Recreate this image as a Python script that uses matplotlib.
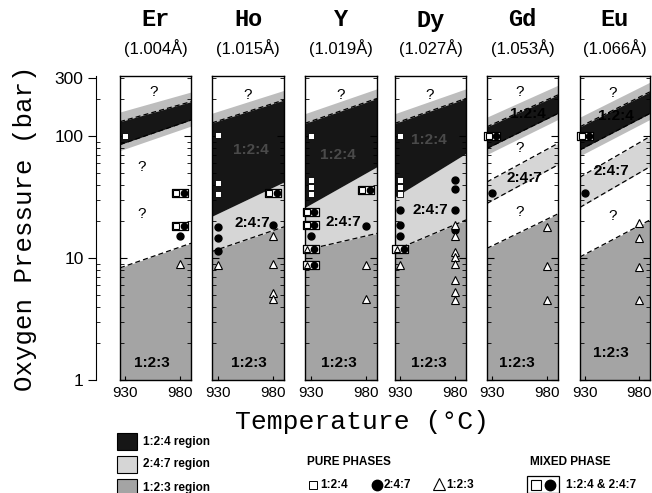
import numpy as np
import matplotlib
matplotlib.use("Agg")
import matplotlib.pyplot as plt
from matplotlib.path import Path
from matplotlib.transforms import ScaledTranslation
from matplotlib.patches import Rectangle

elements = ["Er", "Ho", "Y", "Dy", "Gd", "Eu"]
radii = ["(1.004Å)", "(1.015Å)", "(1.019Å)", "(1.027Å)", "(1.053Å)", "(1.066Å)"]

# phase boundaries: pressure (bar) at left / right edge of each panel
top_123 = [(8.3, 13.2), (11.3, 18.0), (11.6, 15.9), (11.6, 20.5), (12.0, 23.0), (10.2, 20.5)]
low_124 = [(85, 135), (22, 42), (26, 56), (31.6, 72), (79, 153), (77, 153)]
top_124 = [(131, 191), (128, 197), (127, 203), (127, 203), (119, 217), (119, 230)]
low_247 = [None, None, None, None, (28, 58), (26, 56)]
top_247 = [None, None, None, None, (42, 87), (46, 99)]
fill_247_below_124 = [False, True, True, True, False, False]
dash_low_124 = [True, False, False, False, True, True]

# measured points (bar) at 930 and 980 C
sq_930 = [[100], [101, 41, 33.5], [100, 43.6, 38.5, 33.5], [100, 43.6, 38.5, 33.5], [], []]
circ_930 = [[], [18, 14.7, 11.4], [15.1], [24.8, 18.6, 15.1], [34], [34]]
circ_980 = [[15], [18.6], [18.3], [43.6, 36.6, 24.8, 16.9], [], []]
tri_930 = [[], [8.8], [], [8.8], [], []]
tri_980 = [[8.9], [15, 8.9, 5.2, 4.6], [8.8, 4.6],
           [18.6, 15, 11.3, 10.2, 9.0, 6.6, 5.3, 4.5], [18, 8.6, 4.5], [19.2, 14.5, 8.5, 4.5]]
mix_sq_930 = [[], [], [24, 18.6], [], [99], [99]]
mix_sq_980 = [[34, 18.4], [34], [36], [], [], []]
mix_tri_930 = [[], [], [11.9, 8.8], [11.9], [], []]

# region labels (T, P)
lab_124 = [None, (960, 77), (955, 70), (956, 93), (962, 150), (958, 145)]
lab_247 = [None, (961, 19.4), (960, 19.9), (957, 24.8), (959, 45), (954, 52)]
lab_123 = [(954, 1.37), (958, 1.37), (956, 1.37), (956, 1.37), (952, 1.37), (954, 1.66)]
qmarks = [[(956, 231), (945, 56), (945, 23)], [(957, 217)], [(957, 217)], [(957, 217)],
          [(955, 231), (955, 79), (955, 24)], [(955, 224), (955, 22)]]

c124, c247, c123, cfringe = "#161616", "#d6d6d6", "#a4a4a4", "#bdbdbd"
mono = "Liberation Mono"
sans = "Liberation Sans"

W, H = 652, 493
fig = plt.figure(figsize=(W / 100, H / 100), dpi=100)


def rect(x0, x1, y0=76, y1=380):
    return [x0 / W, 1 - y1 / H, (x1 - x0) / W, (y1 - y0) / H]


box = Path([(-1, -0.55), (1, -0.55), (1, 0.55), (-1, 0.55), (-1, -0.55)],
           [Path.MOVETO, Path.LINETO, Path.LINETO, Path.LINETO, Path.CLOSEPOLY])


def shifted(ax, dx):
    return ax.transData + ScaledTranslation(dx / 72, 0, fig.dpi_scale_trans)


def mixed(ax, t, ps, first):
    if not ps:
        return
    tt = [t] * len(ps)
    ax.plot(tt, ps, ls="none", marker=box, ms=11, mfc="white", mec="black", mew=0.9, clip_on=False, zorder=6)
    if first == "s":
        ax.plot(tt, ps, ls="none", marker="s", ms=4, mfc="white", mec="black", mew=0.8,
                transform=shifted(ax, -2.6), clip_on=False, zorder=7)
    else:
        ax.plot(tt, ps, ls="none", marker="^", ms=4.5, mfc="white", mec="black", mew=0.8,
                transform=shifted(ax, -2.6), clip_on=False, zorder=7)
    ax.plot(tt, ps, ls="none", marker="o", ms=4.5, color="black",
            transform=shifted(ax, 2.8), clip_on=False, zorder=7)


panel_px = [(120, 191), (212, 284), (305, 377), (395, 466), (487, 558), (580, 650)]
x = np.array([925, 990])

for i, name in enumerate(elements):
    ax = fig.add_axes(rect(*panel_px[i]))
    ax.set_yscale("log")
    ax.set_ylim(1, 310)
    ax.set_xlim(925, 990)

    ax.fill_between(x, 1, top_123[i], color=c123, lw=0)
    if fill_247_below_124[i]:
        ax.fill_between(x, top_123[i], low_124[i], color=c247, lw=0)
    if low_247[i] is not None:
        ax.fill_between(x, low_247[i], top_247[i], color=c247, lw=0)
    hi = np.array(top_124[i])
    lo = np.array(low_124[i])
    ax.fill_between(x, hi, hi * 1.2, color=cfringe, lw=0)
    if dash_low_124[i]:
        ax.fill_between(x, lo / 1.12, lo, color=cfringe, lw=0)
    ax.fill_between(x, lo, hi, color=c124, lw=0)

    ax.plot(x, top_124[i], color="black", ls=(0, (4, 2.5)), lw=0.9)
    ax.plot(x, top_123[i], color="black", ls=(0, (4, 2.5)), lw=0.9)
    if dash_low_124[i]:
        ax.plot(x, low_124[i], color="black", ls=(0, (4, 2.5)), lw=0.9)
    if low_247[i] is not None:
        ax.plot(x, low_247[i], color="black", ls=(0, (4, 2.5)), lw=0.9)
        ax.plot(x, top_247[i], color="black", ls=(0, (4, 2.5)), lw=0.9)

    ax.plot([930] * len(sq_930[i]), sq_930[i], ls="none", marker="s", ms=4,
            mfc="white", mec="black", mew=0.6, zorder=5)
    ax.plot([930] * len(circ_930[i]), circ_930[i], ls="none", marker="o", ms=5,
            color="black", zorder=5)
    ax.plot([980] * len(circ_980[i]), circ_980[i], ls="none", marker="o", ms=5,
            color="black", zorder=5)
    ax.plot([930] * len(tri_930[i]), tri_930[i], ls="none", marker="^", ms=5.5,
            mfc="white", mec="black", mew=0.8, zorder=5)
    ax.plot([980] * len(tri_980[i]), tri_980[i], ls="none", marker="^", ms=5.5,
            mfc="white", mec="black", mew=0.8, zorder=5)
    mixed(ax, 930, mix_sq_930[i], "s")
    mixed(ax, 980, mix_sq_980[i], "s")
    mixed(ax, 930, mix_tri_930[i], "t")

    for t, p in qmarks[i]:
        ax.text(t, p, "?", ha="center", va="center", fontsize=11, family=sans)
    if lab_124[i] is not None:
        col = "#4a4a4a" if fill_247_below_124[i] else "black"
        ax.text(*lab_124[i], "1:2:4", ha="center", va="center", fontsize=11,
                family=sans, weight="bold", color=col)
    if lab_247[i] is not None:
        ax.text(*lab_247[i], "2:4:7", ha="center", va="center", fontsize=11,
                family=sans, weight="bold")
    ax.text(*lab_123[i], "1:2:3", ha="center", va="center", fontsize=11,
            family=sans, weight="bold")

    ax.set_xticks([930, 980])
    ax.set_xticklabels(["930", "980"], family=sans, fontsize=11)
    ax.tick_params(axis="x", direction="in", length=3, pad=4, top=False)
    ax.yaxis.set_ticks_position("both")
    ax.tick_params(axis="y", which="major", direction="in", length=5, labelleft=False)
    ax.tick_params(axis="y", which="minor", direction="in", length=3, labelleft=False)
    for s in ax.spines.values():
        s.set_linewidth(1.0)

# shared pressure axis
ay = fig.add_axes(rect(96, 97))
ay.set_yscale("log")
ay.set_ylim(1, 310)
for s in ["top", "right", "bottom"]:
    ay.spines[s].set_visible(False)
ay.set_xticks([])
ay.set_yticks([1, 10, 100, 300])
ay.set_yticklabels(["1", "10", "100", "300"], family=sans, fontsize=12.5)
ay.tick_params(axis="y", which="major", direction="out", length=6, pad=3)
ay.tick_params(axis="y", which="minor", direction="in", length=3, labelleft=False)
ay.patch.set_visible(False)

# overlay in pixel coordinates for titles, axis labels, legend
ov = fig.add_axes([0, 0, 1, 1])
ov.set_xlim(0, W)
ov.set_ylim(H, 0)
ov.axis("off")
ov.patch.set_visible(False)

for i, name in enumerate(elements):
    cx = sum(panel_px[i]) / 2
    ov.text(cx, 20, name, ha="center", va="center", family=mono, weight="bold", fontsize=17)
    ov.text(cx, 48, radii[i], ha="center", va="center", family=sans, fontsize=12)

ov.text(25, 228, "Oxygen Pressure (bar)", rotation=90, ha="center", va="center",
        family=mono, fontsize=18.5)
ov.text(362, 422, "Temperature (°C)", ha="center", va="center", family=mono, fontsize=19)

legend_regions = ["1:2:4 region", "2:4:7 region", "1:2:3 region"]
for k, (lbl, col) in enumerate(zip(legend_regions, [c124, c247, c123])):
    y0 = 433 + k * 23
    ov.add_patch(Rectangle((117, y0), 20, 17, facecolor=col, edgecolor="black", lw=0.8))
    ov.text(143, y0 + 8.5, lbl, ha="left", va="center", family=sans, weight="bold", fontsize=8.5)

ov.text(307, 462, "PURE PHASES", ha="left", va="center", family=sans, weight="bold", fontsize=8.5)
ov.plot([313], [485], marker="s", ms=5.5, mfc="white", mec="black", mew=0.7)
ov.text(320, 485, "1:2:4", ha="left", va="center", family=sans, weight="bold", fontsize=8.5)
ov.plot([377], [485], marker="o", ms=7.5, color="black")
ov.text(384, 485, "2:4:7", ha="left", va="center", family=sans, weight="bold", fontsize=8.5)
ov.plot([439], [484], marker="^", ms=9, mfc="white", mec="black", mew=0.8)
ov.text(446, 485, "1:2:3", ha="left", va="center", family=sans, weight="bold", fontsize=8.5)

ov.text(530, 462, "MIXED PHASE", ha="left", va="center", family=sans, weight="bold", fontsize=8.5)
ov.add_patch(Rectangle((527, 476), 32, 17, facecolor="white", edgecolor="black", lw=0.9))
ov.plot([536], [484.5], marker="s", ms=7, mfc="white", mec="black", mew=0.8)
ov.plot([550], [484.5], marker="o", ms=7.5, color="black")
ov.text(566, 485, "1:2:4 & 2:4:7", ha="left", va="center", family=sans, weight="bold", fontsize=8.5)

fig.savefig("out.png", dpi=100)
